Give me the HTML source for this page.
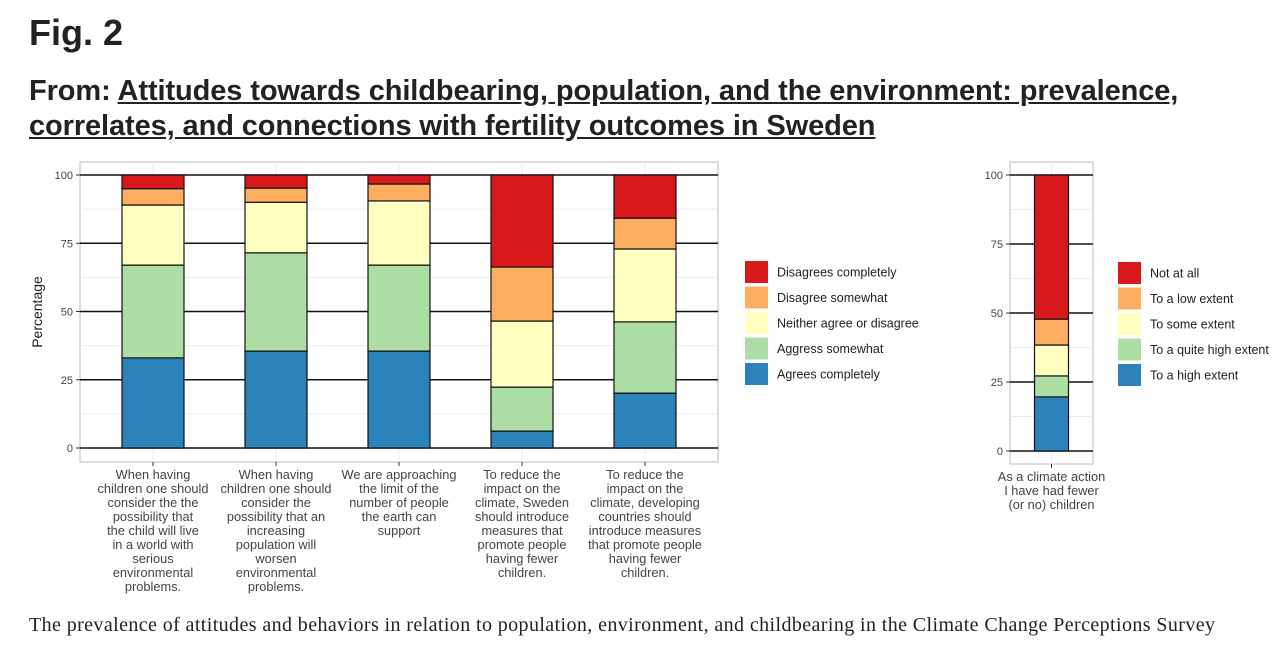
<!DOCTYPE html>
<html><head><meta charset="utf-8"><style>
body{margin:0;width:1280px;height:654px;background:#fff;overflow:hidden;position:relative;font-family:"Liberation Sans",sans-serif}
.t{position:absolute;left:29px;top:12px;font-size:36px;font-weight:bold;color:#222;margin:0}
.s{position:absolute;left:29px;top:74px;font-size:29px;font-weight:bold;color:#222;line-height:35px;width:1245px;letter-spacing:-0.1px}
.s a{color:#222;text-decoration:underline}
.c{position:absolute;left:29px;top:614px;font-family:"Liberation Serif",serif;font-size:20px;letter-spacing:0.4px;color:#222;white-space:nowrap}
svg{position:absolute;left:0;top:0}
</style></head><body>
<h1 class="t">Fig. 2</h1>
<div class="s">From: <a>Attitudes towards childbearing, population, and the environment: prevalence, correlates, and connections with fertility outcomes in Sweden</a></div>
<div class="c">The prevalence of attitudes and behaviors in relation to population, environment, and childbearing in the Climate Change Perceptions Survey</div>
<svg id="chart" width="1280" height="654"></svg>
<script>
const colors=["#2b83ba","#abdda4","#ffffbf","#fdae61","#d7191c"];
const leftCats=[
["When having","children one should","consider the the","possibility that","the child will live","in a world with","serious","environmental","problems."],
["When having","children one should","consider the","possibility that an","increasing","population will","worsen","environmental","problems."],
["We are approaching","the limit of the","number of people","the earth can","support"],
["To reduce the","impact on the","climate, Sweden","should introduce","measures that","promote people","having fewer","children."],
["To reduce the","impact on the","climate, developing","countries should","introduce measures","that promote people","having fewer","children."]];
const agreeCompletely=[33,35.5,35.5,6.2,20.1];
const agreeSomewhat=[34,36,31.5,16.1,26.1];
const neither=[22,18.5,23.5,24.2,26.7];
const disagreeSomewhat=[6,5.2,6.2,19.8,11.3];
const disagreeCompletely=[5,4.8,3.3,33.7,15.8];
const leftLegend=["Disagrees completely","Disagree somewhat","Neither agree or disagree","Aggress somewhat","Agrees completely"];
const rightCats=[["As a climate action","I have had fewer","(or no) children"]];
const highExtent=[19.6];const quiteHigh=[7.6];const someExtent=[11.2];const lowExtent=[9.4];const notAtAll=[52.2];
const rightLegend=["Not at all","To a low extent","To some extent","To a quite high extent","To a high extent"];
const ticks=[0,25,50,75,100];
const svg=document.getElementById('chart');const NS="http://www.w3.org/2000/svg";
function el(t,a,p){const e=document.createElementNS(NS,t);for(const k in a)e.setAttribute(k,a[k]);(p||svg).appendChild(e);return e;}
function panel(px0,px1,x0,x1,yTop,yBot,y0,y100,cats,series,bw,name){
  const g=el('g',{});
  const y=v=>y0+(y100-y0)*v/100;
  const step=(x1-x0)/cats.length;const xc=i=>x0+step*(i+0.5);
  el('rect',{x:px0,y:yTop,width:px1-px0,height:yBot-yTop,fill:'#fff',stroke:'#bbb','stroke-width':1},g);
  for(let v=12.5;v<100;v+=25)el('line',{x1:px0,x2:px1,y1:y(v),y2:y(v),stroke:'#ebebeb'},g);
  cats.forEach((c,i)=>el('line',{x1:xc(i),x2:xc(i),y1:yTop,y2:yBot,stroke:'#ebebeb'},g));
  ticks.forEach(t=>{el('line',{x1:px0,x2:px1,y1:y(t),y2:y(t),stroke:'#111','stroke-width':1.5},g);
    el('line',{x1:px0-4,x2:px0,y1:y(t),y2:y(t),stroke:'#333'},g);
    const tx=el('text',{x:px0-7,y:y(t)+4,'text-anchor':'end','font-size':11,fill:'#444'},g);tx.textContent=t;
    });
  cats.forEach((c,i)=>{let cum=0;
    series.forEach((s,k)=>{const v=s[i];const r=el('rect',{x:xc(i)-bw/2,y:y(cum+v),width:bw,height:y(cum)-y(cum+v),fill:colors[k],stroke:'#111','stroke-width':1.2},g);
      cum+=v;});
    el('line',{x1:xc(i),x2:xc(i),y1:yBot,y2:yBot+4,stroke:'#333'},g);
    c.forEach((ln,j)=>{const t=el('text',{x:xc(i),y:yBot+17+j*14,'text-anchor':'middle','font-size':12.8,fill:'#444'},g);t.textContent=ln;
      });
  });
}
panel(80,718,91.5,706.5,162,462,448,175,leftCats,[agreeCompletely,agreeSomewhat,neither,disagreeSomewhat,disagreeCompletely],62,'left-panel');
panel(1010,1093,1010,1093,162,464,451,175,rightCats,[highExtent,quiteHigh,someExtent,lowExtent,notAtAll],34,'right-panel');
const yt=el('text',{x:0,y:0,transform:'translate(42,312) rotate(-90)','text-anchor':'middle','font-size':14,fill:'#222'});yt.textContent='Percentage';

function legend(x,yStart,labels,name){labels.forEach((l,i)=>{const yy=yStart+i*25.5;
  const r=el('rect',{x:x,y:yy-11,width:23,height:22,fill:colors[4-i]});
  const t=el('text',{x:x+32,y:yy+4.5,'font-size':12.5,fill:'#222'});t.textContent=l;});}
legend(745,272,leftLegend,'left-legend');
legend(1118,273,rightLegend,'right-legend');
</script>
</body></html>
